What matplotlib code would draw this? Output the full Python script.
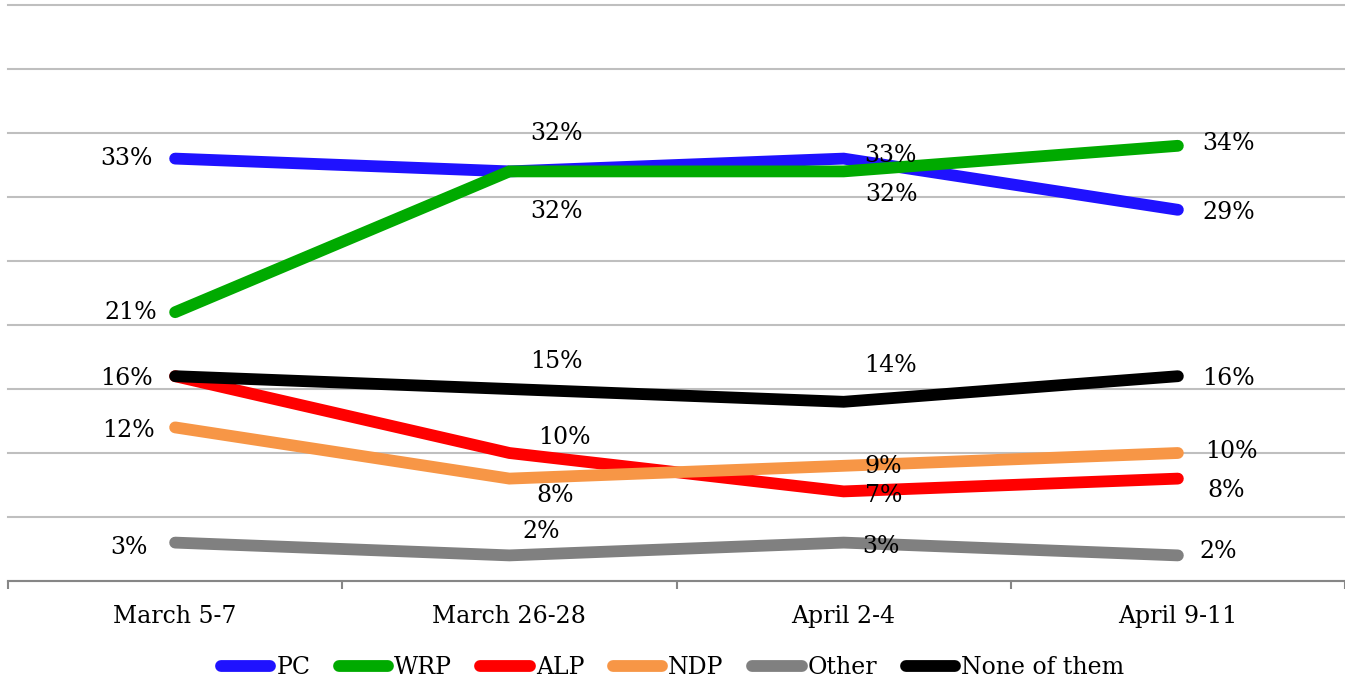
import matplotlib.pyplot as plt

# poll data (percent)
periods = ['March 5-7', 'March 26-28', 'April 2-4', 'April 9-11']
parties = ['PC', 'WRP', 'ALP', 'NDP', 'Other', 'None of them']
pc = [33, 32, 33, 29]
wrp = [21, 32, 32, 34]
alp = [16, 10, 7, 8]
ndp = [12, 8, 9, 10]
other = [3, 2, 3, 2]
none_of_them = [16, 15, 14, 16]

series = [pc, wrp, alp, ndp, other, none_of_them]
colors = ['#1F12FF', '#00AA00', '#FF0000', '#F79646', '#808080', '#000000']

# label offsets in pixels (dx, dy with dy up), hand placed like the original
# None = label hidden behind another one
label_offsets = [
    [(-49, 0), (47, 38), (47, 3), (51, -3)],
    [(-44, 0), (47, -40), (48, -23), (51, 2)],
    [None, (55, 15), (40, -4), (48, -12)],
    [(-47, -3), (46, -17), (40, -1), (54, 1)],
    [(-46, -5), (32, 24), (37, -4), (40, 4)],
    [(-49, -2), (47, 28), (47, 36), (51, -2)],
]

FONT = 'DejaVu Serif'
plt.rcParams['font.family'] = FONT
FS = 17

W, H = 1345, 686
fig = plt.figure(figsize=(W / 100, H / 100), dpi=100)
ax = fig.add_axes([8 / W, (H - 581) / H, 1337 / W, 576 / H])

x = list(range(len(periods)))
for name, vals, col, offs in zip(parties, series, colors, label_offsets):
    ax.plot(x, vals, color=col, lw=8.5, solid_capstyle='round',
            solid_joinstyle='miter', label=name, zorder=3)
    for xi, v, off in zip(x, vals, offs):
        if off is None:
            continue
        ax.annotate(f'{v}%', (xi, v), xytext=off, textcoords='offset pixels',
                    ha='center', va='center', fontsize=FS, color='black', zorder=4)

ax.set_xlim(-0.5, 3.5)
ax.set_ylim(0, 45)
ax.set_yticks(range(0, 46, 5))
ax.set_yticklabels([])
ax.tick_params(axis='y', length=0)
ax.grid(axis='y', color='#BFBFBF', lw=1.5, clip_on=False)
ax.set_axisbelow(True)

ax.set_xticks(x)
ax.set_xticklabels(periods, fontsize=FS)
ax.set_xticks([i - 0.5 for i in range(len(periods) + 1)], minor=True)
ax.tick_params(axis='x', which='major', length=0, pad=17)
ax.tick_params(axis='x', which='minor', length=6, width=1.5, color='#868686', direction='out')

for s in ['top', 'right', 'left']:
    ax.spines[s].set_visible(False)
ax.spines['bottom'].set_color('#868686')
ax.spines['bottom'].set_linewidth(1.5)

fig.legend(loc='center', bbox_to_anchor=(0.5, 1 - 668 / H), ncol=6, frameon=False,
           fontsize=FS, handlelength=2.1, handletextpad=0.25, columnspacing=1.2)

fig.savefig('out.png', dpi=100)
